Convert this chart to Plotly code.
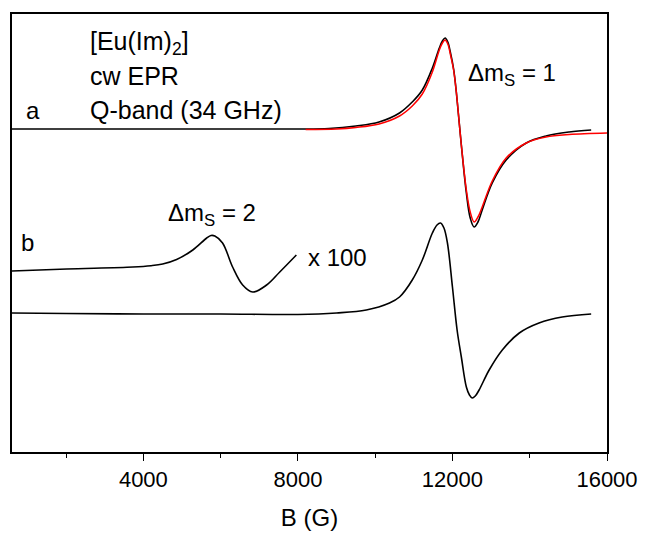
import plotly.graph_objects as go

# Magnetic field (G) and signal (arbitrary units)
a_B = [600, 2000, 4000, 6000, 8000, 8800, 9500, 10100, 10630, 10960, 11220, 11480, 11660,
       11740, 11810, 11880, 11950, 12030, 12100, 12230, 12360, 12460, 12560, 12660, 12770,
       13030, 13390, 13910, 14420, 15020, 15590]
a_I = [323, 323, 323, 323, 323, 323.5, 326, 330, 339, 350, 362, 384, 404,
       411, 414, 410, 399, 383, 360, 307, 259, 234, 225, 230, 242,
       269, 292, 309, 316, 320, 322]

fit_B = [8200, 9000, 9500, 10100, 10630, 10960, 11220, 11480, 11660, 11740, 11810, 11880,
         11950, 12030, 12100, 12230, 12360, 12460, 12560, 12660, 12770, 13030, 13390, 13910,
         14420, 15020, 16000]
fit_I = [322.5, 323, 324.5, 328, 336, 346, 358, 380, 402, 409, 412, 408,
         397, 382, 360, 307, 262, 240, 230, 235, 245, 271, 294, 309,
         315, 317.5, 319]

b_B = [600, 2000, 4000, 6000, 8000, 9000, 9770, 10370, 10630, 10960, 11220, 11480, 11600,
       11690, 11780, 11870, 12000, 12120, 12230, 12360, 12440, 12510, 12590, 12690, 12950,
       13290, 13730, 14240, 14840, 15590]
b_I = [139, 138.5, 138, 138, 137.5, 139, 142, 149, 155, 172, 192, 219, 227,
       229, 224, 209, 165, 122, 95, 65, 57, 54, 56, 62, 82,
       102, 119, 129, 135, 138]

h_B = [600, 2020, 3730, 4200, 4500, 4860, 5280, 5640, 5750, 5850, 6050, 6310, 6570, 6830,
       7190, 7530, 7960]
h_I = [181, 183, 185, 186.3, 188, 192.5, 202, 214, 216.5, 216, 209, 185, 167, 160,
       167, 180, 197]

x_ticks = [4000, 8000, 12000, 16000]
x_tick_text = ["4000", "8000", "12000", "16000"]
x_minor = [2000, 6000, 10000, 14000]

FONT = "Liberation Sans, Arial, sans-serif"

fig = go.Figure()
fig.add_trace(go.Scatter(x=a_B, y=a_I, mode="lines", line=dict(color="black", width=1.6, shape="spline"), showlegend=False))
fig.add_trace(go.Scatter(x=fit_B, y=fit_I, mode="lines", line=dict(color="#ff0000", width=1.5, shape="spline"), showlegend=False))
fig.add_trace(go.Scatter(x=b_B, y=b_I, mode="lines", line=dict(color="black", width=1.6, shape="spline"), showlegend=False))
fig.add_trace(go.Scatter(x=h_B, y=h_I, mode="lines", line=dict(color="black", width=1.6, shape="spline"), showlegend=False))

ann = [
    dict(x=2560, y=409, text="[Eu(Im)<sub>2</sub>]", size=25),
    dict(x=2560, y=376, text="cw EPR", size=25),
    dict(x=2560, y=342, text="Q-band (34 GHz)", size=25),
    dict(x=900, y=342, text="a", size=24),
    dict(x=770, y=210, text="b", size=24),
    dict(x=12357, y=378, text="Δm<sub>S</sub> = 1", size=24),
    dict(x=4580, y=238, text="Δm<sub>S</sub> = 2", size=24),
    dict(x=8220, y=195, text="x 100", size=24),
]
for a in ann:
    fig.add_annotation(x=a["x"], y=a["y"], text=a["text"], showarrow=False,
                       xanchor="left", yanchor="middle",
                       font=dict(size=a["size"], color="black", family=FONT))

fig.update_layout(
    width=646, height=539,
    margin=dict(l=4, r=47, t=6, b=95),
    paper_bgcolor="white", plot_bgcolor="white",
    font=dict(family=FONT, color="black"),
)
fig.update_xaxes(
    range=[600, 16000], tickvals=x_ticks, ticktext=x_tick_text,
    ticks="outside", ticklen=7, tickwidth=1.3, tickcolor="black",
    minor=dict(tickvals=x_minor, ticks="outside", ticklen=4, tickwidth=1.3, tickcolor="black"),
    showline=True, linecolor="black", linewidth=1.5, mirror=True,
    showgrid=False, zeroline=False, automargin=False,
    tickfont=dict(size=22, family=FONT, color="black"),
    title=dict(text="B (G)", font=dict(size=24, family=FONT, color="black"), standoff=18),
)
fig.update_yaxes(
    range=[0, 438], showticklabels=False, ticks="",
    showline=True, linecolor="black", linewidth=1.5, mirror=True,
    showgrid=False, zeroline=False, automargin=False,
)

fig.write_html("out.html")
